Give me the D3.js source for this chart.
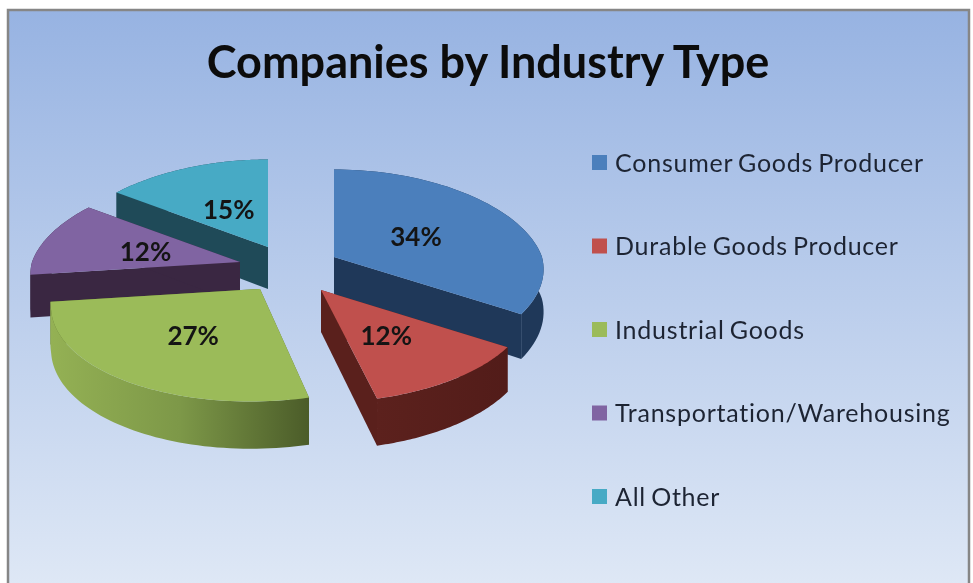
<!DOCTYPE html>
<html>
<head>
<meta charset="utf-8">
<script src="https://cdnjs.cloudflare.com/ajax/libs/d3/7.8.5/d3.min.js"></script>
<style>
  html, body { margin: 0; padding: 0; background: #fff; }
  svg { display: block; filter: blur(0.5px); }
</style>
</head>
<body>
<script>
const categories = ["Consumer Goods Producer", "Durable Goods Producer", "Industrial Goods", "Transportation/Warehousing", "All Other"];
const shares = [34, 12, 27, 12, 15];
const titleText = "Companies by Industry Type";

const topColors = ["#4b7fbc", "#c0504d", "#9bbb59", "#8064a2", "#47aac5"];
const wallColors = ["#1f3859", "#5a201c", "#5a6f30", "#3a2742", "#1f4a58"];
const rimStops = [
    ["#1f3859", "#1f3859"],
    ["#5c211d", "#521c19"],
    ["#94b154", "#7d9848", "#4b5c29"],
    ["#3a2742", "#3a2742"],
    ["#1f4a58", "#1f4a58"]
];

const width = 973, height = 583;

// pie geometry
const center = { x: 290, y: 272 };
const radiusX = 208, radiusY = 100, depth = 42;
const persp = 0.125, perspBack = 0.17, vanishX = 338;
const explode = [[44, -15], [31, 18], [-30, 17], [-50, -10], [-22, -25]];
const drawOrder = [4, 3, 0, 1, 2];

const svg = d3.select("body").append("svg")
    .attr("width", width)
    .attr("height", height);

const defs = svg.append("defs");

const bg = defs.append("linearGradient")
    .attr("id", "bg")
    .attr("x1", 0).attr("y1", 0).attr("x2", 0).attr("y2", 1);
bg.append("stop").attr("offset", "0%").attr("stop-color", "#97b3e2");
bg.append("stop").attr("offset", "100%").attr("stop-color", "#e0e9f6");

svg.append("rect")
    .attr("x", 8).attr("y", 10)
    .attr("width", 961).attr("height", 590)
    .attr("fill", "url(#bg)")
    .attr("stroke", "#868686")
    .attr("stroke-width", 2.5);

svg.append("text")
    .attr("x", 488)
    .attr("y", 78)
    .attr("text-anchor", "middle")
    .style("font-family", "Lato")
    .style("font-weight", 700)
    .style("font-size", "45px")
    .style("fill", "#0c0c0c")
    .text(titleText);

const pie = d3.pie().sort(null)(shares);

const line = d3.line().x(d => d[0]).y(d => d[1]);

// unit circle angle -> screen point, front of the pie is a bit larger
function project(slice, a, r, z) {
    const u = Math.sin(a), v = -Math.cos(a);
    const sx = 1 + (v < 0 ? perspBack : persp) * v;
    const sy = 1 + persp * v;
    const apex = [center.x + explode[slice][0], center.y + explode[slice][1]];
    const lean = (apex[0] - vanishX) * 0.15 * Math.max(v - 0.2, 0) * r;
    return [
        apex[0] + radiusX * u * sx * r + lean,
        apex[1] + radiusY * v * sy * r + z * depth * (1 + persp * v * r)
    ];
}

function arcAngles(d) {
    const steps = 60;
    return d3.range(steps + 1).map(i => d.startAngle + (d.endAngle - d.startAngle) * i / steps);
}

function cutWall(i, a) {
    return line([project(i, a, 0, 0), project(i, a, 1, 0), project(i, a, 1, 1), project(i, a, 0, 1)]) + "Z";
}

drawOrder.forEach(i => {
    const d = pie[i];
    const angles = arcAngles(d);
    const g = svg.append("g");

    const xs = angles.map(a => project(i, a, 1, 0)[0]);
    const grad = defs.append("linearGradient")
        .attr("id", `rim${i}`)
        .attr("gradientUnits", "userSpaceOnUse")
        .attr("x1", d3.min(xs)).attr("y1", 0)
        .attr("x2", d3.max(xs)).attr("y2", 0);
    rimStops[i].forEach((c, k) => {
        grad.append("stop")
            .attr("offset", k / (rimStops[i].length - 1))
            .attr("stop-color", c);
    });

    g.append("path").attr("d", cutWall(i, d.startAngle)).attr("fill", wallColors[i]);
    g.append("path").attr("d", cutWall(i, d.endAngle)).attr("fill", wallColors[i]);

    const rim = angles.map(a => project(i, a, 1, 0))
        .concat(angles.slice().reverse().map(a => project(i, a, 1, 1)));
    g.append("path").attr("d", line(rim) + "Z").attr("fill", `url(#rim${i})`);

    const top = [project(i, 0, 0, 0)].concat(angles.map(a => project(i, a, 1, 0)));
    g.append("path").attr("d", line(top) + "Z").attr("fill", topColors[i]);
});

// labels go on top of everything
pie.forEach((d, i) => {
    const mid = (d.startAngle + d.endAngle) / 2;
    const p = project(i, mid, 0.49, 0);
    svg.append("text")
        .attr("x", p[0])
        .attr("y", p[1])
        .attr("dy", "0.42em")
        .attr("text-anchor", "middle")
        .style("font-family", "Lato")
        .style("font-weight", 700)
        .style("font-size", "26px")
        .style("fill", "#141414")
        .text(`${d.value}%`);
});

const legendY = d3.scalePoint().domain(categories).range([163, 497]);

const legend = svg.selectAll("g.legend")
    .data(categories)
    .enter().append("g")
    .attr("class", "legend")
    .attr("transform", d => `translate(592,${legendY(d)})`);

legend.append("rect")
    .attr("y", -8)
    .attr("width", 15)
    .attr("height", 15)
    .attr("fill", (d, i) => topColors[i]);

legend.append("text")
    .attr("x", 23)
    .attr("dy", "0.35em")
    .style("font-family", "Lato")
    .style("font-size", "25px")
    .style("letter-spacing", "0.77px")
    .style("word-spacing", "-2px")
    .style("fill", "#1d2433")
    .text(d => d);
</script>
</body>
</html>
